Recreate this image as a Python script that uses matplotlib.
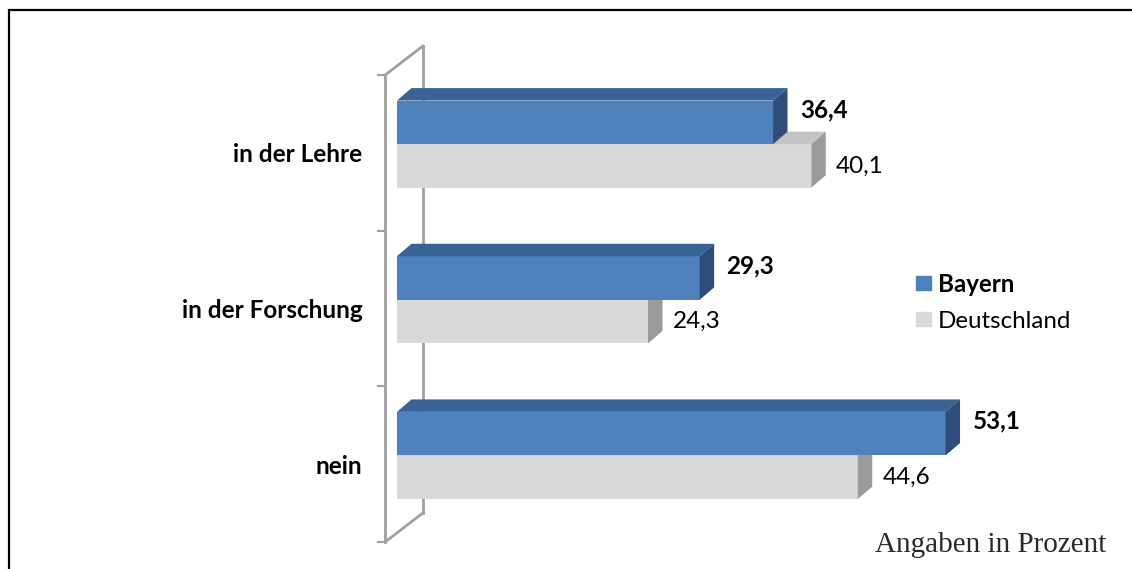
import matplotlib.pyplot as plt
from matplotlib.patches import Polygon, Rectangle, Patch

# chart data
categories = ["in der Lehre", "in der Forschung", "nein"]
bayern = [36.4, 29.3, 53.1]
deutschland = [40.1, 24.3, 44.6]
series_names = ["Bayern", "Deutschland"]

plt.rcParams['font.family'] = ['Lato', 'DejaVu Sans']

# colours for front / top / side faces
BLUE = ("#4F81BD", "#3B6296", "#2E4D78")
GREY = ("#D9D9D9", "#C4C4C4", "#9A9A9A")
WALL = "#A0A0A0"

# 3d depth of the bars and of the axis wall (data units)
DX, DY = 1.4, 0.08
WALL_X0, WALL_X1, WALL_DY = -1.15, 2.5, 0.186
BAR_H = 0.28
SPLIT = -0.056

fig = plt.figure(figsize=(11.32, 5.69), dpi=100)
ax = fig.add_axes([0.3507, 0.04745, 0.6206, 0.8207])
ax.set_xlim(0, 68)
ax.set_ylim(2.5, -0.5)
for s in ax.spines.values():
    s.set_visible(False)
ax.set_xticks([])
ax.set_yticks(range(len(categories)))
ax.set_yticklabels(categories, fontsize=17.5, fontweight="bold")
ax.tick_params(axis="y", length=0, pad=25)

# axis wall: front and back verticals joined at top and bottom
ax.plot([WALL_X0, WALL_X0], [-0.5, 2.5], color=WALL, lw=2, clip_on=False, zorder=1)
ax.plot([WALL_X1, WALL_X1], [-0.5 - WALL_DY, 2.5 - WALL_DY], color=WALL, lw=2,
        clip_on=False, zorder=1)
for y in (-0.5, 2.5):
    ax.plot([WALL_X0, WALL_X1], [y, y - WALL_DY], color=WALL, lw=2, clip_on=False, zorder=1)
for y in (-0.5, 0.5, 1.5, 2.5):
    ax.plot([WALL_X0 - 0.7, WALL_X0], [y, y], color=WALL, lw=1.5, clip_on=False, zorder=1)


def bar3d(y, v, colors, z):
    front, top, side = colors
    yt, yb = y - BAR_H / 2, y + BAR_H / 2
    ax.barh(y, v, height=BAR_H, color=front, edgecolor="none", zorder=z)
    ax.add_patch(Polygon([(0, yt), (v, yt), (v + DX, yt - DY), (DX, yt - DY)],
                         closed=True, color=top, lw=0, zorder=z, clip_on=False))
    ax.add_patch(Polygon([(v, yt), (v, yb), (v + DX, yb - DY), (v + DX, yt - DY)],
                         closed=True, color=side, lw=0, zorder=z, clip_on=False))


for i in range(len(categories)):
    yb_ = i + SPLIT - BAR_H / 2
    yd_ = i + SPLIT + BAR_H / 2
    bar3d(yd_, deutschland[i], GREY, 2)
    bar3d(yb_, bayern[i], BLUE, 3)
    ax.text(bayern[i] + DX + 1.2, yb_ - DY / 2 - 0.04,
            f"{bayern[i]:.1f}".replace(".", ","), fontsize=17.5, fontweight="bold",
            va="center", ha="left", zorder=5)
    ax.text(deutschland[i] + DX + 1.0, yd_,
            f"{deutschland[i]:.1f}".replace(".", ","), fontsize=17.5,
            va="center", ha="left", zorder=5)

handles = [Patch(color=BLUE[0]), Patch(color=GREY[0])]
leg = fig.legend(handles, series_names, loc="center left",
                 bbox_to_anchor=(0.8006, 0.469), frameon=False, fontsize=17.4,
                 handlelength=0.62, handleheight=0.54, handletextpad=0.29,
                 labelspacing=0.62, borderaxespad=0)
leg.get_texts()[0].set_fontweight("bold")

fig.text(0.9775, 0.042, "Angaben in Prozent", family="Liberation Serif",
         fontsize=21, ha="right", va="center", color="#2A2A2A")

# outer frame (open to the right and bottom)
fig.add_artist(Rectangle((8.5 / 1132, -0.1), 1.2, 1.1 - 10.5 / 569,
                         transform=fig.transFigure, fill=False,
                         edgecolor="black", lw=1.6))

fig.savefig("out.png", dpi=100)
